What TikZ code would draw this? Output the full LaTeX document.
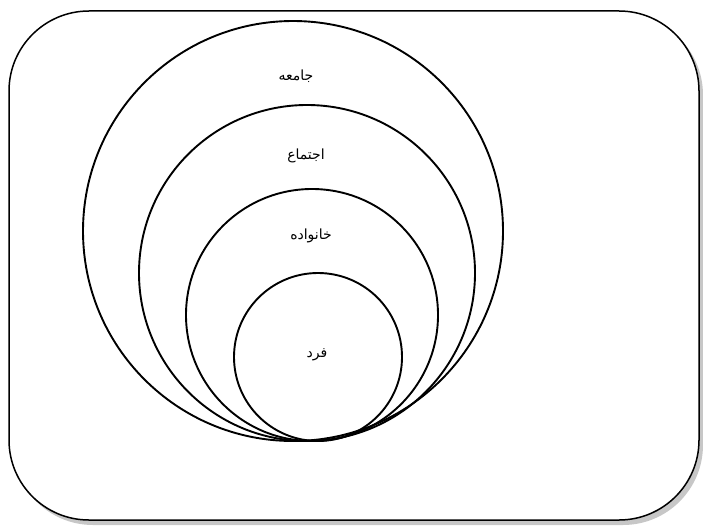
\documentclass[tikz,border=0pt]{standalone}
\usepackage{fontspec}
\newfontfamily\arabicfont[Script=Arabic]{DejaVu Sans}
\TeXXeTstate=1
\tikzset{
  ring/.style={line width=1.9pt},
  lbl/.style={font=\arabicfont\fontsize{14}{16}\selectfont, inner sep=1pt}
}
\begin{document}
\begin{tikzpicture}[x=1pt,y=-1pt]
      \useasboundingbox (0,0) rectangle (703,527);
      % frame with its shadow
      \fill[black!22,rounded corners=80pt] (13,15) rectangle (703,525);
      \draw[fill=white,line width=1.5pt,rounded corners=80pt] (9,11) rectangle (699,520);
      % nested circles, all touching at the bottom
      \draw[ring] (293,231) circle (210pt);
      \draw[ring] (307,273) circle (168pt);
      \draw[ring] (312,315) circle (126pt);
      \draw[ring] (318,357) circle (84pt);
      \node[lbl] (jameh) at (296,76) {\beginR جامعه\endR};
      \node[lbl] (ejtema) at (306,156) {\beginR اجتماع\endR};
      \node[lbl] (khanevade) at (311,236) {\beginR خانواده\endR};
      \node[lbl] (fard) at (317,355) {\beginR فرد\endR};
    \end{tikzpicture}
\end{document}
